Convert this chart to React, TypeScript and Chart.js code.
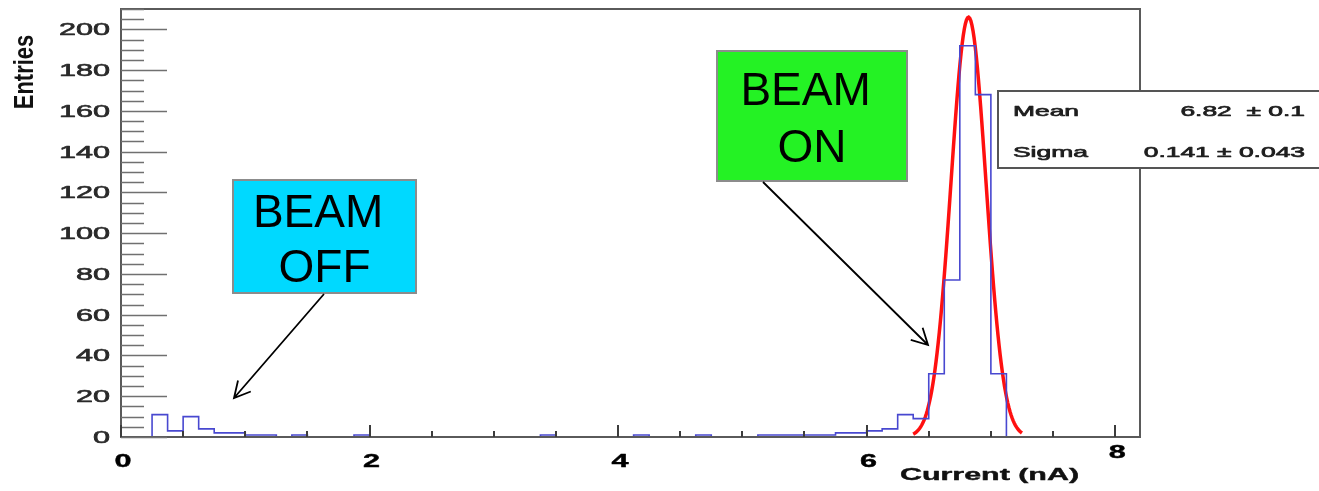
import { useEffect, useRef } from "react";
import { Chart, registerables } from "chart.js";

Chart.register(...registerables);

// Beam current histogram: 0.125 nA bins starting at 0 nA
const BIN_WIDTH = 0.125;
const BIN_COUNTS = [
  0, 0, 11, 3, 10, 4, 2, 2, 1, 1, 0, 1, 0, 0, 0, 1, // 0.0 – 2.0
  0, 0, 0, 0, 0, 0, 0, 0, 0, 0, 0, 1, 0, 0, 0, 0, // 2.0 – 4.0
  0, 1, 0, 0, 0, 1, 0, 0, 0, 1, 1, 1, 1, 1, 2, 2, // 4.0 – 6.0
  3, 4, 11, 9, 31, 77, 192, 168, 31, 0, 0, 0, 0, 0, 0, 0, // 6.0 – 8.0
  0, 0, // 8.0 – 8.25
];

// Gaussian fit of the beam-on peak
const FIT_MEAN = 6.82;
const FIT_SIGMA = 0.141;
const FIT_PEAK = 206;
const FIT_FROM = 6.375;
const FIT_TO = 7.25;
const FIT_SAMPLES = 100;

// Axes
const X_MIN = 0;
const X_MAX = 8.2;
const Y_MIN = 0;
const Y_MAX = 210;
const X_MAJOR_TICKS = [0, 2, 4, 6, 8];
const X_TICK_LABELS = ["0", "2", "4", "6", "8"];
const X_MINOR_STEP = 0.5;
const Y_MAJOR_TICKS = [0, 20, 40, 60, 80, 100, 120, 140, 160, 180, 200];
const Y_TICK_LABELS = ["0", "20", "40", "60", "80", "100", "120", "140", "160", "180", "200"];
const Y_MINOR_STEP = 5;
const X_TITLE = "Current (nA)";
const Y_TITLE = "Entries";

// Fit statistics box
const STAT_NAMES = ["Mean", "Sigma"];
const STAT_VALUES = ["6.82  ± 0.1", "0.141 ± 0.043"];

// Callout labels
const CALLOUT_OFF = ["BEAM ", "OFF"];
const CALLOUT_ON = ["BEAM ", "ON"];

const FONT = '"Liberation Sans", Arial, Helvetica, sans-serif';

function histogramPoints() {
  const pts = BIN_COUNTS.map((c, i) => ({ x: i * BIN_WIDTH, y: c }));
  pts.push({ x: BIN_COUNTS.length * BIN_WIDTH, y: 0 });
  return pts;
}

function fitPoints() {
  const pts = [];
  for (let i = 0; i <= FIT_SAMPLES; i++) {
    const x = FIT_FROM + ((FIT_TO - FIT_FROM) * i) / FIT_SAMPLES;
    const z = (x - FIT_MEAN) / FIT_SIGMA;
    pts.push({ x, y: FIT_PEAK * Math.exp(-0.5 * z * z) });
  }
  return pts;
}

// Horizontally stretched text, optionally thickened with a thin outline
function stretchedText(
  ctx: CanvasRenderingContext2D,
  text: string,
  x: number,
  y: number,
  sx: number,
  align: CanvasTextAlign,
  weight = 0
) {
  ctx.save();
  ctx.translate(x, y);
  ctx.scale(sx, 1);
  ctx.textAlign = align;
  ctx.textBaseline = "alphabetic";
  ctx.fillText(text, 0, 0);
  if (weight > 0) {
    ctx.strokeStyle = ctx.fillStyle as string;
    ctx.lineWidth = weight;
    ctx.lineJoin = "round";
    ctx.strokeText(text, 0, 0);
  }
  ctx.restore();
}

function arrow(
  ctx: CanvasRenderingContext2D,
  x0: number,
  y0: number,
  x1: number,
  y1: number
) {
  const headLen = 18;
  const spread = (28 * Math.PI) / 180;
  const ang = Math.atan2(y0 - y1, x0 - x1);
  ctx.beginPath();
  ctx.moveTo(x0, y0);
  ctx.lineTo(x1, y1);
  ctx.moveTo(x1 + headLen * Math.cos(ang + spread), y1 + headLen * Math.sin(ang + spread));
  ctx.lineTo(x1, y1);
  ctx.lineTo(x1 + headLen * Math.cos(ang - spread), y1 + headLen * Math.sin(ang - spread));
  ctx.stroke();
}

function callout(
  ctx: CanvasRenderingContext2D,
  lines: string[],
  fill: string,
  left: number,
  top: number,
  right: number,
  bottom: number,
  baselines: number[]
) {
  ctx.fillStyle = fill;
  ctx.fillRect(left, top, right - left, bottom - top);
  ctx.strokeStyle = "#8c8c8c";
  ctx.lineWidth = 2;
  ctx.strokeRect(left, top, right - left, bottom - top);
  ctx.fillStyle = "#000";
  ctx.font = `46px ${FONT}`;
  ctx.textAlign = "center";
  ctx.textBaseline = "alphabetic";
  const cx = (left + right) / 2;
  lines.forEach((t, i) => ctx.fillText(t, cx, baselines[i]));
}

const rootFrame = {
  id: "rootFrame",
  afterDatasetsDraw(chart: any) {
    const { ctx, chartArea: a, scales } = chart;
    const xs = scales.x;
    const ys = scales.y;
    ctx.save();

    // Frame
    ctx.strokeStyle = "#5a5a5a";
    ctx.lineWidth = 2;
    ctx.strokeRect(a.left, a.top, a.right - a.left, a.bottom - a.top);

    // Y ticks (inward)
    ctx.strokeStyle = "#707070";
    ctx.lineWidth = 1.6;
    ctx.beginPath();
    for (let v = Y_MIN; v <= Y_MAX + 1e-9; v += Y_MINOR_STEP) {
      const major = Y_MAJOR_TICKS.includes(v);
      const y = Math.round(ys.getPixelForValue(v)) + 0.5;
      ctx.moveTo(a.left, y);
      ctx.lineTo(a.left + (major ? 46 : 23), y);
    }
    ctx.stroke();

    // X ticks (inward)
    ctx.strokeStyle = "#3c3c3c";
    ctx.lineWidth = 2;
    ctx.beginPath();
    for (let v = X_MIN; v <= X_MAX + 1e-9; v += X_MINOR_STEP) {
      const major = X_MAJOR_TICKS.includes(v);
      const x = Math.round(xs.getPixelForValue(v));
      ctx.moveTo(x, a.bottom);
      ctx.lineTo(x, a.bottom - (major ? 12 : 6));
    }
    ctx.stroke();

    // Y tick labels
    ctx.fillStyle = "#2a2a2a";
    ctx.font = `17px ${FONT}`;
    Y_MAJOR_TICKS.forEach((v, i) => {
      stretchedText(ctx, Y_TICK_LABELS[i], 110, ys.getPixelForValue(v) + 6, 1.8, "right", 0.6);
    });

    // X tick labels (the last one sits higher, clear of the axis title)
    ctx.fillStyle = "#000";
    ctx.font = `bold 18px ${FONT}`;
    X_MAJOR_TICKS.forEach((v, i) => {
      const last = i === X_MAJOR_TICKS.length - 1;
      stretchedText(ctx, X_TICK_LABELS[i], xs.getPixelForValue(v) + 2, last ? 458 : 466.5, 1.7, "center", 0.4);
    });

    // Axis titles
    ctx.fillStyle = "#111";
    ctx.font = `bold 16px ${FONT}`;
    stretchedText(ctx, X_TITLE, 900, 479.5, 1.9, "left", 0.4);

    ctx.save();
    ctx.font = `bold 22px ${FONT}`;
    ctx.translate(33, 72);
    ctx.rotate(-Math.PI / 2);
    ctx.scale(1, 1.23);
    ctx.textAlign = "center";
    ctx.textBaseline = "alphabetic";
    ctx.fillText(Y_TITLE, 0, 0);
    ctx.restore();

    // Fit statistics box
    ctx.fillStyle = "#fff";
    ctx.fillRect(998, 91, 340, 77);
    ctx.strokeStyle = "#555";
    ctx.lineWidth = 2;
    ctx.strokeRect(998, 91, 340, 77);
    ctx.fillStyle = "#1e1e1e";
    ctx.font = `15px ${FONT}`;
    const rowBase = [116, 157];
    STAT_NAMES.forEach((name, i) => {
      stretchedText(ctx, name, 1013, rowBase[i], 1.76, "left", 0.7);
      stretchedText(ctx, STAT_VALUES[i], 1305, rowBase[i], 1.76, "right", 0.7);
    });

    // Callouts with arrows
    callout(ctx, CALLOUT_OFF, "#00d9ff", 233, 180, 416, 293, [226.5, 282]);
    callout(ctx, CALLOUT_ON, "#24f224", 717, 51, 907, 181, [105, 161.5]);
    ctx.strokeStyle = "#000";
    ctx.lineWidth = 1.8;
    arrow(ctx, 324, 294, 234, 398);
    arrow(ctx, 763, 182, 928, 345);

    ctx.restore();
  },
};

export default function App() {
  const canvasRef = useRef<HTMLCanvasElement | null>(null);

  useEffect(() => {
    document.body.style.margin = "0";
    const canvas = canvasRef.current;
    if (!canvas) return;
    const chart = new Chart(canvas, {
      type: "line",
      data: {
        datasets: [
          {
            // step-before: each bin's level runs from its left edge to the next edge
            data: histogramPoints(),
            stepped: "before",
            borderColor: "rgb(72, 72, 208)",
            borderWidth: 1.6,
            pointRadius: 0,
            fill: false,
          },
          {
            data: fitPoints(),
            borderColor: "#ff1010",
            borderWidth: 3.5,
            pointRadius: 0,
            tension: 0,
            fill: false,
          },
        ],
      },
      options: {
        animation: false,
        responsive: false,
        devicePixelRatio: 1,
        parsing: false as any,
        layout: { padding: { left: 121, right: 179, top: 9, bottom: 54 } },
        plugins: { legend: { display: false }, tooltip: { enabled: false } },
        scales: {
          x: { type: "linear", min: X_MIN, max: X_MAX, display: false },
          y: { type: "linear", min: Y_MIN, max: Y_MAX, display: false },
        },
      },
      plugins: [rootFrame],
    });
    return () => chart.destroy();
  }, []);

  return (
    <div style={{ position: "fixed", left: 0, top: 0, width: 1319, height: 491, background: "#fff" }}>
      <canvas ref={canvasRef} width={1319} height={491} style={{ display: "block" }} />
    </div>
  );
}
